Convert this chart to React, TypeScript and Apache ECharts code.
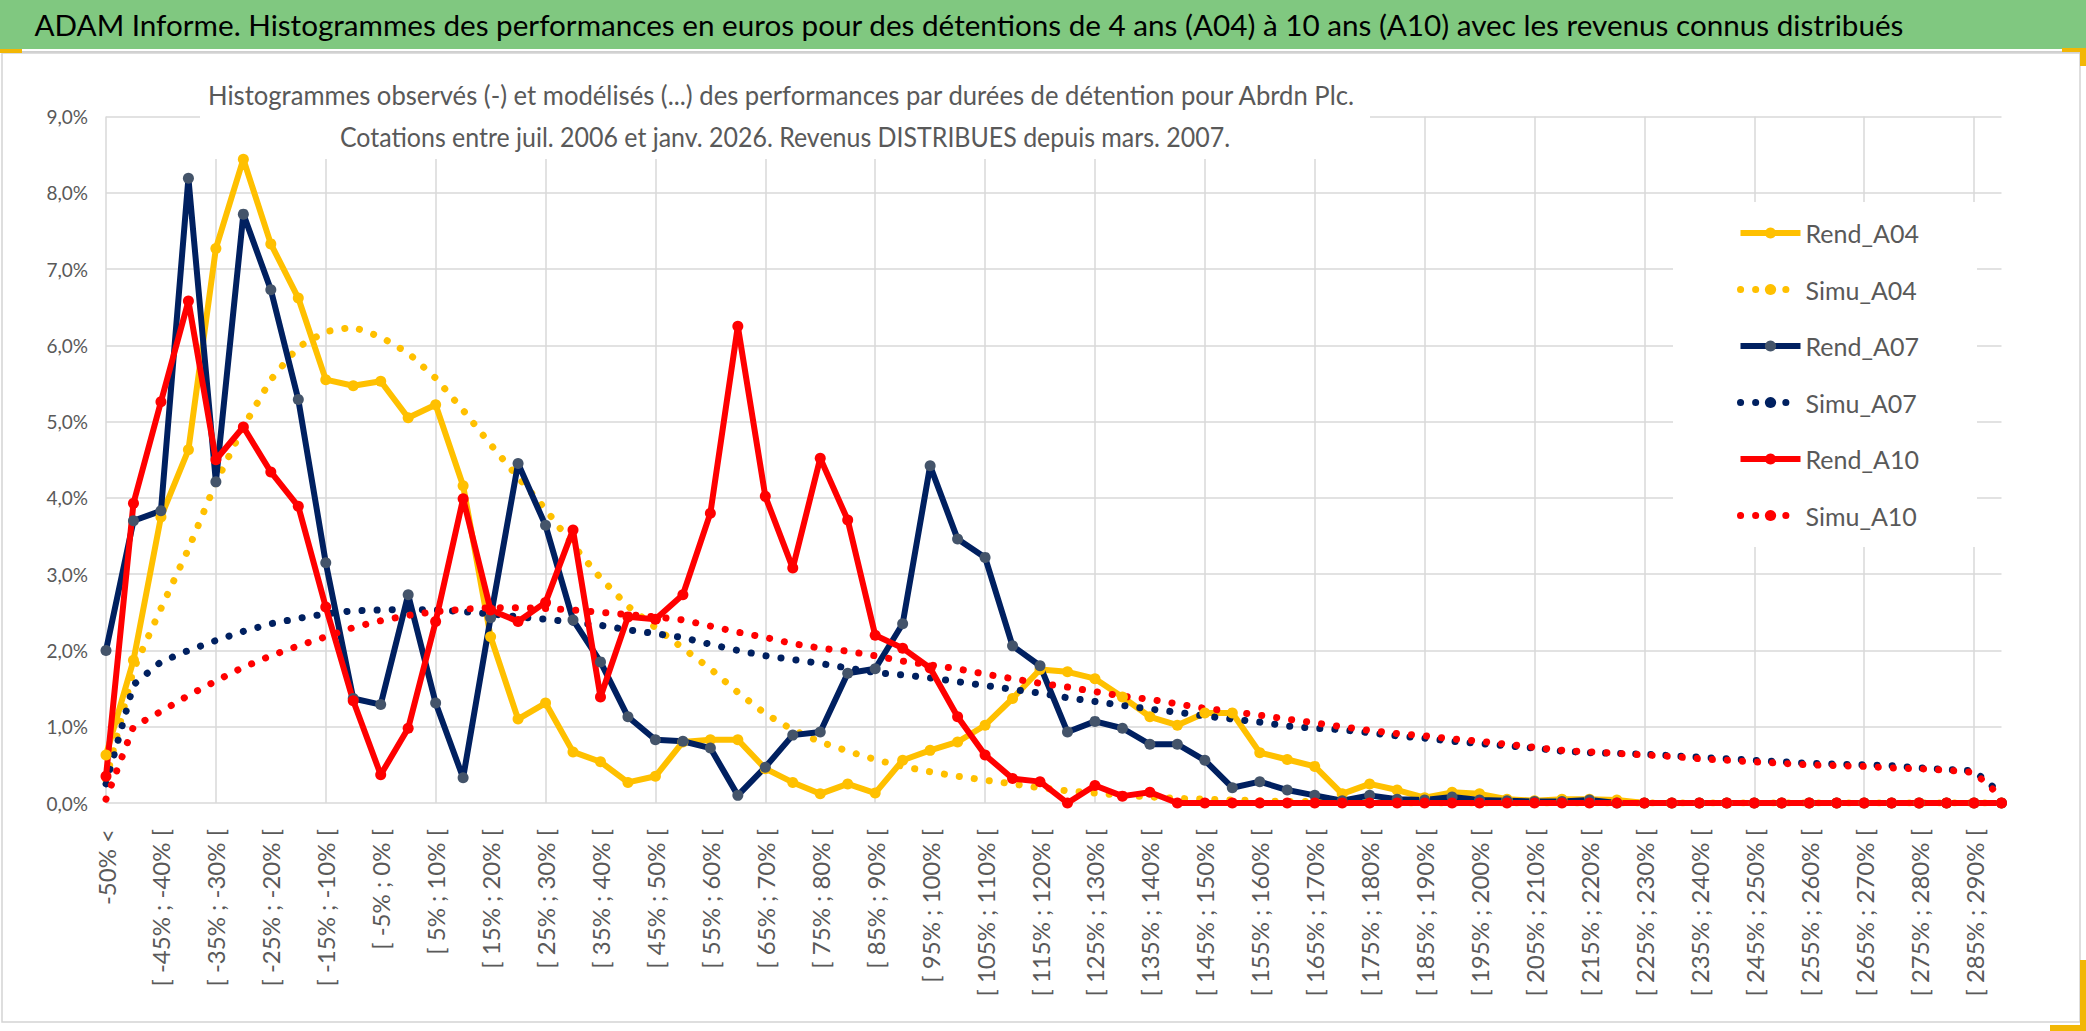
import React, { useEffect, useRef } from "react";
import * as echarts from "echarts";

const categories = [
  "-50% <", "[ -50% ; -45% [", "[ -45% ; -40% [", "[ -40% ; -35% [", "[ -35% ; -30% [",
  "[ -30% ; -25% [", "[ -25% ; -20% [", "[ -20% ; -15% [", "[ -15% ; -10% [", "[ -10% ; -5% [",
  "[ -5% ; 0% [", "[ 0% ; 5% [", "[ 5% ; 10% [", "[ 10% ; 15% [", "[ 15% ; 20% [",
  "[ 20% ; 25% [", "[ 25% ; 30% [", "[ 30% ; 35% [", "[ 35% ; 40% [", "[ 40% ; 45% [",
  "[ 45% ; 50% [", "[ 50% ; 55% [", "[ 55% ; 60% [", "[ 60% ; 65% [", "[ 65% ; 70% [",
  "[ 70% ; 75% [", "[ 75% ; 80% [", "[ 80% ; 85% [", "[ 85% ; 90% [", "[ 90% ; 95% [",
  "[ 95% ; 100% [", "[ 100% ; 105% [", "[ 105% ; 110% [", "[ 110% ; 115% [", "[ 115% ; 120% [",
  "[ 120% ; 125% [", "[ 125% ; 130% [", "[ 130% ; 135% [", "[ 135% ; 140% [", "[ 140% ; 145% [",
  "[ 145% ; 150% [", "[ 150% ; 155% [", "[ 155% ; 160% [", "[ 160% ; 165% [", "[ 165% ; 170% [",
  "[ 170% ; 175% [", "[ 175% ; 180% [", "[ 180% ; 185% [", "[ 185% ; 190% [", "[ 190% ; 195% [",
  "[ 195% ; 200% [", "[ 200% ; 205% [", "[ 205% ; 210% [", "[ 210% ; 215% [", "[ 215% ; 220% [",
  "[ 220% ; 225% [", "[ 225% ; 230% [", "[ 230% ; 235% [", "[ 235% ; 240% [", "[ 240% ; 245% [",
  "[ 245% ; 250% [", "[ 250% ; 255% [", "[ 255% ; 260% [", "[ 260% ; 265% [", "[ 265% ; 270% [",
  "[ 270% ; 275% [", "[ 275% ; 280% [", "[ 280% ; 285% [", "[ 285% ; 290% [", "[ 290% ; 295% ["
];

const rendA04 = [
  0.63, 1.87, 3.75, 4.63, 7.27, 8.44, 7.33, 6.62, 5.55, 5.47,
  5.53, 5.05, 5.22, 4.16, 2.18, 1.10, 1.31, 0.67, 0.54, 0.27,
  0.35, 0.80, 0.83, 0.83, 0.45, 0.27, 0.12, 0.25, 0.13, 0.56,
  0.69, 0.80, 1.02, 1.37, 1.75, 1.72, 1.63, 1.39, 1.13, 1.02,
  1.18, 1.18, 0.66, 0.57, 0.48, 0.12, 0.25, 0.17, 0.07, 0.14,
  0.12, 0.05, 0.03, 0.05, 0.05, 0.04, 0, 0, 0, 0,
  0, 0, 0, 0, 0, 0, 0, 0, 0, 0
];
const simuA04 = [
  0.30, 1.75, 2.55, 3.33, 4.20, 4.93, 5.55, 5.98, 6.18, 6.24,
  6.11, 5.90, 5.57, 5.15, 4.70, 4.27, 3.85, 3.38, 2.95, 2.58,
  2.30, 2.03, 1.76, 1.45, 1.17, 0.96, 0.80, 0.68, 0.57, 0.48,
  0.41, 0.35, 0.30, 0.25, 0.20, 0.16, 0.13, 0.10, 0.08, 0.06,
  0.05, 0.04, 0.03, 0.02, 0.02, 0.01, 0.01, 0, 0, 0,
  0, 0, 0, 0, 0, 0, 0, 0, 0, 0,
  0, 0, 0, 0, 0, 0, 0, 0, 0, 0
];
const rendA07 = [
  2.00, 3.70, 3.83, 8.19, 4.21, 7.72, 6.73, 5.29, 3.15, 1.37,
  1.29, 2.73, 1.31, 0.33, 2.43, 4.45, 3.64, 2.40, 1.85, 1.13,
  0.83, 0.81, 0.72, 0.10, 0.47, 0.89, 0.93, 1.70, 1.76, 2.35,
  4.42, 3.46, 3.22, 2.06, 1.80, 0.93, 1.07, 0.98, 0.77, 0.77,
  0.56, 0.20, 0.28, 0.17, 0.10, 0.03, 0.10, 0.05, 0.04, 0.08,
  0.04, 0.03, 0.02, 0.02, 0.04, 0, 0, 0, 0, 0,
  0, 0, 0, 0, 0, 0, 0, 0, 0, 0
];
const simuA07 = [
  0.25, 1.55, 1.85, 2.00, 2.13, 2.25, 2.35, 2.42, 2.48, 2.52,
  2.53, 2.54, 2.53, 2.51, 2.48, 2.44, 2.41, 2.37, 2.33, 2.27,
  2.22, 2.17, 2.08, 2.00, 1.93, 1.88, 1.83, 1.77, 1.71, 1.68,
  1.64, 1.59, 1.54, 1.49, 1.44, 1.38, 1.33, 1.28, 1.23, 1.19,
  1.14, 1.10, 1.06, 1.01, 0.98, 0.96, 0.92, 0.88, 0.85, 0.81,
  0.78, 0.75, 0.72, 0.68, 0.66, 0.65, 0.64, 0.62, 0.60, 0.58,
  0.56, 0.54, 0.52, 0.51, 0.50, 0.49, 0.46, 0.44, 0.42, 0.12
];
const rendA10 = [
  0.35, 3.93, 5.26, 6.58, 4.50, 4.93, 4.34, 3.89, 2.57, 1.34,
  0.37, 0.98, 2.38, 3.99, 2.53, 2.38, 2.63, 3.58, 1.39, 2.44,
  2.41, 2.73, 3.80, 6.25, 4.02, 3.08, 4.52, 3.71, 2.20, 2.03,
  1.77, 1.13, 0.63, 0.32, 0.28, 0.00, 0.23, 0.09, 0.14, 0,
  0, 0, 0, 0, 0, 0, 0, 0, 0, 0,
  0, 0, 0, 0, 0, 0, 0, 0, 0, 0,
  0, 0, 0, 0, 0, 0, 0, 0, 0, 0
];
const simuA10 = [
  0.05, 1.00, 1.20, 1.41, 1.60, 1.78, 1.93, 2.06, 2.18, 2.30,
  2.39, 2.46, 2.51, 2.54, 2.56, 2.56, 2.55, 2.53, 2.50, 2.47,
  2.44, 2.40, 2.32, 2.24, 2.17, 2.09, 2.03, 1.99, 1.93, 1.86,
  1.81, 1.76, 1.69, 1.63, 1.57, 1.52, 1.46, 1.40, 1.36, 1.30,
  1.24, 1.20, 1.15, 1.10, 1.05, 1.00, 0.95, 0.91, 0.88, 0.84,
  0.81, 0.77, 0.73, 0.69, 0.67, 0.65, 0.63, 0.61, 0.58, 0.56,
  0.54, 0.52, 0.50, 0.49, 0.48, 0.46, 0.45, 0.43, 0.40, 0.08
];

const mainTitle =
  "ADAM Informe. Histogrammes des performances en euros pour des détentions de 4 ans (A04) à 10 ans (A10) avec les revenus connus distribués";
const subTitle1 =
  "Histogrammes observés (-) et modélisés (...) des performances par durées de détention pour Abrdn Plc.";
const subTitle2 =
  "Cotations entre juil. 2006 et janv. 2026. Revenus DISTRIBUES depuis mars. 2007.";

const FONT = "Lato, 'Noto Sans', sans-serif";
const GRAY = "#595959";
const GRID = "#d9d9d9";

function fitScale(text: string, size: number, target: number): number {
  try {
    const ctx = document.createElement("canvas").getContext("2d");
    if (!ctx) return 1;
    ctx.font = `${size}px Lato`;
    const w = ctx.measureText(text).width;
    return w > 0 ? target / w : 1;
  } catch (e) {
    return 1;
  }
}

function rend(name: string, data: number[], line: string, marker: string) {
  return {
    name,
    type: "line",
    data,
    symbol: "circle",
    symbolSize: 11,
    showSymbol: true,
    showAllSymbol: true,
    lineStyle: { color: line, width: 6 },
    itemStyle: { color: marker },
    emphasis: { disabled: true },
  };
}

function simu(name: string, data: number[], color: string) {
  return {
    name,
    type: "line",
    data,
    symbol: "none",
    lineStyle: { color, width: 7, type: [0.1, 15], cap: "round" },
    itemStyle: { color },
    emphasis: { disabled: true },
  };
}

export default function App() {
  const ref = useRef<HTMLDivElement>(null);
  useEffect(() => {
    if (!ref.current) return;
    const chart = echarts.init(ref.current, null, { renderer: "svg" });
    const sMain = fitScale(mainTitle, 28, 1870);
    const s1 = fitScale(subTitle1, 27, 1148);
    const s2 = fitScale(subTitle2, 27, 890);
    const option: any = {
      animation: false,
      backgroundColor: "#ffffff",
      textStyle: { fontFamily: FONT },
      grid: { left: 106, right: 84.5, top: 116.5, bottom: 228, containLabel: false },
      xAxis: {
        type: "category",
        data: categories,
        boundaryGap: false,
        axisLine: { show: false },
        axisTick: { show: false },
        axisLabel: {
          interval: 1,
          rotate: 90,
          margin: 26,
          color: GRAY,
          fontSize: 24,
          fontFamily: FONT,
        },
        splitLine: { show: true, interval: 3, lineStyle: { color: GRID, width: 1.5 } },
      },
      yAxis: {
        type: "value",
        min: 0,
        max: 9,
        interval: 1,
        axisLine: { show: false },
        axisTick: { show: false },
        axisLabel: {
          margin: 18,
          color: GRAY,
          fontSize: 19,
          fontFamily: FONT,
          formatter: (v: number) => v.toFixed(1).replace(".", ",") + "%",
        },
        splitLine: { show: true, lineStyle: { color: GRID, width: 1.5 } },
      },
      legend: {
        orient: "vertical",
        left: 1737,
        top: 218,
        padding: 0,
        itemWidth: 60,
        itemHeight: 14,
        itemGap: 26.5,
        lineStyle: { width: "inherit" },
        data: ["Rend_A04", "Simu_A04", "Rend_A07", "Simu_A07", "Rend_A10", "Simu_A10"],
        textStyle: { color: GRAY, fontSize: 25, fontFamily: FONT, lineHeight: 30 },
      },
      graphic: [
        { type: "rect", z: 0, shape: { x: 0, y: 0, width: 2086, height: 49 }, style: { fill: "#80c880" } },
        { type: "rect", z: 0, shape: { x: 0, y: 51, width: 2086, height: 2 }, style: { fill: "#cfcfcf" } },
        {
          type: "rect",
          z: 0,
          shape: { x: 2, y: 53, width: 2078, height: 969 },
          style: { fill: "none", stroke: "#d4d4d4", lineWidth: 1.5 },
        },
        { type: "rect", z: 1, shape: { x: 200, y: 56, width: 1170, height: 103 }, style: { fill: "#ffffff" } },
        { type: "rect", z: 1, shape: { x: 1673, y: 202, width: 304, height: 345 }, style: { fill: "#ffffff" } },
        { type: "rect", z: 5, shape: { x: 0, y: 49, width: 22, height: 4 }, style: { fill: "#f2b705" } },
        { type: "rect", z: 5, shape: { x: 2062, y: 48, width: 24, height: 4 }, style: { fill: "#f2b705" } },
        { type: "rect", z: 5, shape: { x: 2080, y: 48, width: 6, height: 18 }, style: { fill: "#f2b705" } },
        { type: "rect", z: 5, shape: { x: 2080, y: 960, width: 6, height: 71 }, style: { fill: "#f2b705" } },
        { type: "rect", z: 5, shape: { x: 2050, y: 1025, width: 36, height: 6 }, style: { fill: "#f2b705" } },
        {
          type: "text",
          z: 10,
          x: 969,
          y: 25,
          scaleX: sMain,
          style: {
            text: mainTitle,
            fill: "#000000",
            fontSize: 28,
            fontFamily: FONT,
            textAlign: "center",
            textVerticalAlign: "middle",
          },
        },
        {
          type: "text",
          z: 10,
          x: 781,
          y: 95,
          scaleX: s1,
          style: {
            text: subTitle1,
            fill: GRAY,
            fontSize: 27,
            fontFamily: FONT,
            textAlign: "center",
            textVerticalAlign: "middle",
          },
        },
        {
          type: "text",
          z: 10,
          x: 785,
          y: 137,
          scaleX: s2,
          style: {
            text: subTitle2,
            fill: GRAY,
            fontSize: 27,
            fontFamily: FONT,
            textAlign: "center",
            textVerticalAlign: "middle",
          },
        },
      ],
      series: [
        rend("Rend_A04", rendA04, "#FFC000", "#FFC000"),
        simu("Simu_A04", simuA04, "#FFC000"),
        rend("Rend_A07", rendA07, "#002060", "#44546A"),
        simu("Simu_A07", simuA07, "#002060"),
        rend("Rend_A10", rendA10, "#FF0000", "#FF0000"),
        simu("Simu_A10", simuA10, "#FF0000"),
      ],
    };
    chart.setOption(option);
    return () => chart.dispose();
  }, []);
  return (
    <div
      ref={ref}
      style={{ position: "fixed", left: 0, top: 0, width: 2086, height: 1031, background: "#ffffff" }}
    />
  );
}
